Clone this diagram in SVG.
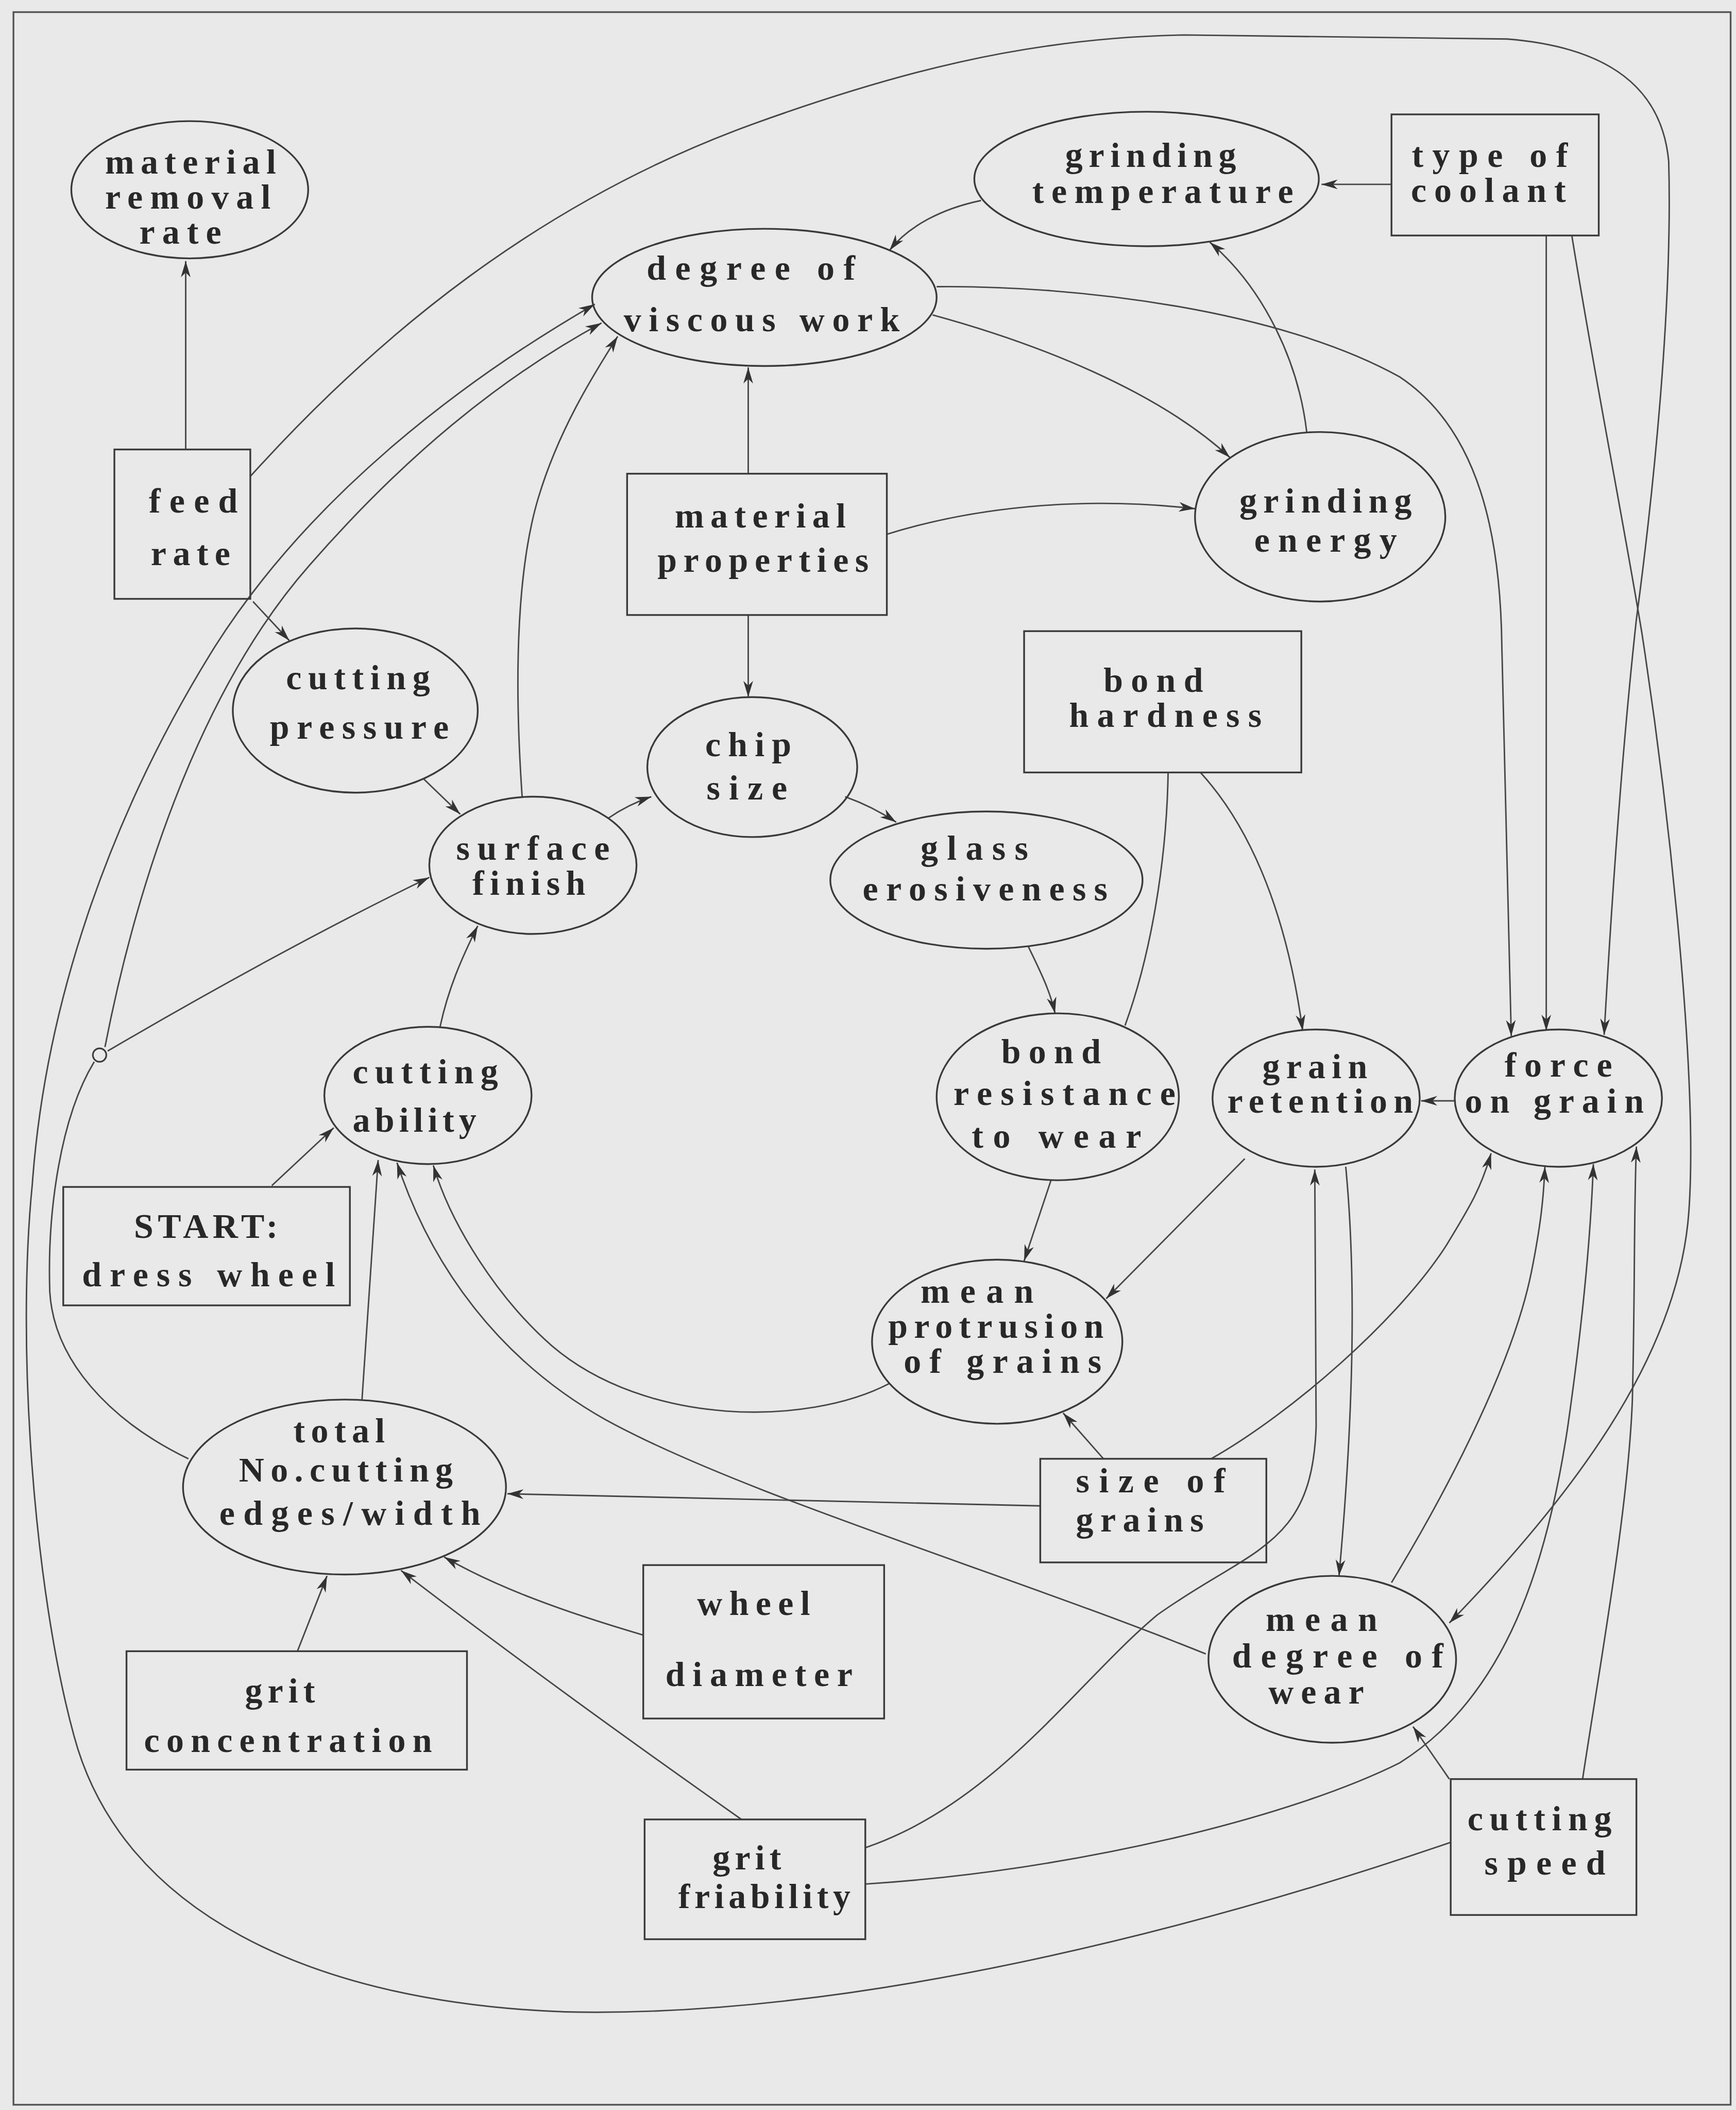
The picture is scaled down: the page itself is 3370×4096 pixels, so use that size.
<svg xmlns="http://www.w3.org/2000/svg" width="3370" height="4096" viewBox="0 0 3370 4096">
<style>
.n ellipse, .n rect { fill: none; stroke: #3a3a3a; stroke-width: 1.3; }
.e path { fill: none; stroke: #474747; stroke-width: 1.1; }
.t { font-family: "Liberation Serif", "DejaVu Serif", serif; font-size: 26px; font-weight: bold; fill: #282828; text-anchor: middle; }
</style>
<defs>
<marker id="a" viewBox="-13 -4.5 14 9" refX="0" refY="0" markerWidth="14" markerHeight="9" markerUnits="userSpaceOnUse" orient="auto">
<path d="M0,0 L-12,-3.6 L-8.5,0 L-12,3.6 Z" fill="#333"/>
</marker>
</defs>
<rect x="0" y="0" width="3370" height="4096" fill="#e9e9e9"/>
<g transform="scale(2.6124)">
<rect x="10" y="9" width="1276" height="1555" fill="none" stroke="#555" stroke-width="1.3"/>

<g class="e" id="connectors">
<path marker-end="url(#a)" d="M138,334 L138,194"/>
<path marker-end="url(#a)" d="M186,354 C 280,250 400,150 560,92 C 660,56 760,28 880,26 L 1120,29 C 1195,35 1235,65 1240,120 C 1243,230 1228,370 1216,460 C 1205,560 1197,680 1192,769"/>
<path marker-end="url(#a)" d="M696,213 C 800,212 950,230 1040,280 C 1100,320 1115,400 1116,480 C 1118,600 1121,700 1123,770"/>
<path marker-end="url(#a)" d="M693,234 C 770,255 860,290 914,340"/>
<path marker-end="url(#a)" d="M729,149 C 700,155 675,168 661,186"/>
<path marker-end="url(#a)" d="M1034,137 L982,137"/>
<path marker-end="url(#a)" d="M971,321 C 965,270 940,215 899,180"/>
<path marker-end="url(#a)" d="M556,352 L556,273"/>
<path marker-end="url(#a)" d="M659,397 C 720,378 800,368 888,378"/>
<path marker-end="url(#a)" d="M556,457 L556,518"/>
<path marker-end="url(#a)" d="M188,447 L215,476"/>
<path marker-end="url(#a)" d="M315,579 L342,605"/>
<path marker-end="url(#a)" d="M388,592 C 383,520 382,430 400,370 C 415,320 440,280 459,250"/>
<path marker-end="url(#a)" d="M452,608 C 462,601 472,596 484,592"/>
<path marker-end="url(#a)" d="M628,592 C 642,597 654,603 666,611"/>
<path marker-end="url(#a)" d="M764,703 C 772,720 780,735 784,753"/>
<path d="M868,574 C 867,640 855,710 836,762"/>
<path marker-end="url(#a)" d="M892,574 C 925,610 955,670 968,766"/>
<path marker-end="url(#a)" d="M1081,818 L1056,818"/>
<path marker-end="url(#a)" d="M1149,175 L1149,766"/>
<path marker-end="url(#a)" d="M1168,175 C 1185,280 1205,380 1220,470 C 1240,600 1262,800 1255,900 C 1248,1000 1180,1100 1077,1206"/>
<path marker-end="url(#a)" d="M925,861 L822,965"/>
<path marker-end="url(#a)" d="M781,877 L761,937"/>
<path marker-end="url(#a)" d="M820,1084 L790,1050"/>
<path marker-end="url(#a)" d="M773,1119 L377,1110"/>
<path marker-end="url(#a)" d="M661,1028 C 600,1060 480,1060 410,1000 C 370,965 335,910 322,866"/>
<path marker-end="url(#a)" d="M896,1229 C 750,1170 550,1110 450,1055 C 370,1010 320,940 295,864"/>
<path marker-end="url(#a)" d="M269,1040 L281,862"/>
<path marker-end="url(#a)" d="M202,881 L248,838"/>
<path marker-end="url(#a)" d="M327,763 C 333,735 343,712 355,688"/>
<path marker-end="url(#a)" d="M221,1227 L243,1171"/>
<path marker-end="url(#a)" d="M478,1215 C 420,1198 370,1180 330,1157"/>
<path marker-end="url(#a)" d="M551,1352 C 470,1295 380,1230 298,1167"/>
<path marker-end="url(#a)" d="M643,1373 C 740,1340 800,1250 860,1200 C 930,1150 975,1150 978,1060 L 977,869"/>
<path marker-end="url(#a)" d="M643,1400 C 800,1390 960,1350 1040,1310 C 1120,1260 1150,1160 1165,1060 C 1175,990 1182,920 1184,865"/>
<path marker-end="url(#a)" d="M1176,1322 C 1190,1230 1210,1120 1213,1040 C 1215,960 1214,900 1216,852"/>
<path marker-end="url(#a)" d="M1077,1322 L1050,1283"/>
<path marker-end="url(#a)" d="M1078,1369 C 900,1430 640,1500 420,1495 C 230,1488 90,1420 55,1290 C 25,1180 12,1000 24,880 C 34,740 85,600 160,480 C 230,370 340,285 442,226"/>
<path marker-end="url(#a)" d="M1034,1176 C 1080,1100 1125,1010 1138,945 C 1145,910 1147,890 1148,867"/>
<path marker-end="url(#a)" d="M1000,867 C 1008,950 1006,1050 995,1171"/>
<path marker-end="url(#a)" d="M900,1084 C 960,1050 1040,980 1075,925 C 1090,900 1100,885 1108,857"/>
<path d="M140,1084 C 80,1055 40,1010 37,960 C 35,900 45,830 70,789"/>
<path marker-end="url(#a)" d="M78,778 C 105,640 155,505 230,420 C 300,340 370,282 447,240"/>
<path marker-end="url(#a)" d="M80,781 C 150,740 240,690 319,652"/>
</g>

<circle id="junction" cx="74" cy="784" r="5" fill="none" stroke="#3a3a3a" stroke-width="1.2"/>

<g class="n" id="material-removal-rate"><ellipse cx="141" cy="141" rx="88" ry="51"/>
<text class="t" x="141.6" y="129" textLength="127">material</text><text class="t" x="139.6" y="155" textLength="123">removal</text><text class="t" x="134" y="181" textLength="61">rate</text></g>
<g class="n" id="feed-rate"><rect x="85" y="334" width="101" height="111"/>
<text class="t" x="143.6" y="381" textLength="66">feed</text><text class="t" x="141.6" y="420" textLength="59">rate</text></g>
<g class="n" id="grinding-temperature"><ellipse cx="852" cy="133" rx="128" ry="50"/>
<text class="t" x="855" y="124" textLength="127">grinding</text><text class="t" x="864" y="151" textLength="194">temperature</text></g>
<g class="n" id="type-of-coolant"><rect x="1034" y="85" width="154" height="90"/>
<text class="t" x="1107" y="124" textLength="116">type of</text><text class="t" x="1106" y="150" textLength="115">coolant</text></g>
<g class="n" id="degree-of-viscous-work"><ellipse cx="568" cy="221" rx="128" ry="51"/>
<text class="t" x="558" y="208" textLength="155">degree of</text><text class="t" x="566" y="246" textLength="205">viscous work</text></g>
<g class="n" id="material-properties"><rect x="466" y="352" width="193" height="105"/>
<text class="t" x="565" y="392" textLength="127">material</text><text class="t" x="567" y="425" textLength="157">properties</text></g>
<g class="n" id="grinding-energy"><ellipse cx="981" cy="384" rx="93" ry="63"/>
<text class="t" x="985" y="381" textLength="128">grinding</text><text class="t" x="985" y="410" textLength="106">energy</text></g>
<g class="n" id="cutting-pressure"><ellipse cx="264" cy="528" rx="91" ry="61"/>
<text class="t" x="266" y="512" textLength="107">cutting</text><text class="t" x="267" y="549" textLength="133">pressure</text></g>
<g class="n" id="surface-finish"><ellipse cx="396" cy="643" rx="77" ry="51"/>
<text class="t" x="396" y="639" textLength="114">surface</text><text class="t" x="393" y="665" textLength="84">finish</text></g>
<g class="n" id="chip-size"><ellipse cx="559" cy="570" rx="78" ry="52"/>
<text class="t" x="556" y="562" textLength="64">chip</text><text class="t" x="555" y="594" textLength="60">size</text></g>
<g class="n" id="glass-erosiveness"><ellipse cx="733" cy="654" rx="116" ry="51"/>
<text class="t" x="724" y="639" textLength="80">glass</text><text class="t" x="732" y="669" textLength="182">erosiveness</text></g>
<g class="n" id="bond-hardness"><rect x="761" y="469" width="206" height="105"/>
<text class="t" x="857" y="514" textLength="74">bond</text><text class="t" x="866" y="540" textLength="143">hardness</text></g>
<g class="n" id="bond-resistance-to-wear"><ellipse cx="786" cy="815" rx="90" ry="62"/>
<text class="t" x="781" y="790" textLength="74">bond</text><text class="t" x="791" y="821" textLength="165">resistance</text><text class="t" x="785" y="853" textLength="126">to wear</text></g>
<g class="n" id="grain-retention"><ellipse cx="978" cy="816" rx="77" ry="51"/>
<text class="t" x="977" y="801" textLength="78">grain</text><text class="t" x="981" y="827" textLength="138">retention</text></g>
<g class="n" id="force-on-grain"><ellipse cx="1158" cy="816" rx="77" ry="51"/>
<text class="t" x="1158" y="800" textLength="80">force</text><text class="t" x="1155" y="827" textLength="133">on grain</text></g>
<g class="n" id="cutting-ability"><ellipse cx="318" cy="814" rx="77" ry="51"/>
<text class="t" x="316" y="805" textLength="108">cutting</text><text class="t" x="308" y="841" textLength="92">ability</text></g>
<g class="n" id="start-dress-wheel"><rect x="47" y="882" width="213" height="88"/>
<text class="t" x="153" y="920" textLength="107">START:</text><text class="t" x="155" y="956" textLength="188">dress wheel</text></g>
<g class="n" id="mean-protrusion-of-grains"><ellipse cx="741" cy="997" rx="93" ry="61"/>
<text class="t" x="726" y="968" textLength="84">mean</text><text class="t" x="740" y="994" textLength="160">protrusion</text><text class="t" x="745" y="1020" textLength="147">of grains</text></g>
<g class="n" id="total-no-cutting-edges-width"><ellipse cx="256" cy="1105" rx="120" ry="65"/>
<text class="t" x="252" y="1072" textLength="68">total</text><text class="t" x="257" y="1101" textLength="159">No.cutting</text><text class="t" x="260" y="1133" textLength="194">edges/width</text></g>
<g class="n" id="size-of-grains"><rect x="773" y="1084" width="168" height="77"/>
<text class="t" x="855" y="1109" textLength="111">size of</text><text class="t" x="847" y="1138" textLength="95">grains</text></g>
<g class="n" id="wheel-diameter"><rect x="478" y="1163" width="179" height="114"/>
<text class="t" x="560" y="1200" textLength="84">wheel</text><text class="t" x="564" y="1253" textLength="139">diameter</text></g>
<g class="n" id="grit-concentration"><rect x="94" y="1227" width="253" height="88"/>
<text class="t" x="208" y="1265" textLength="52">grit</text><text class="t" x="214" y="1302" textLength="214">concentration</text></g>
<g class="n" id="mean-degree-of-wear"><ellipse cx="990" cy="1233" rx="92" ry="62"/>
<text class="t" x="982" y="1212" textLength="83">mean</text><text class="t" x="994" y="1239" textLength="157">degree of</text><text class="t" x="978" y="1266" textLength="71">wear</text></g>
<g class="n" id="grit-friability"><rect x="479" y="1352" width="164" height="89"/>
<text class="t" x="555" y="1389" textLength="51">grit</text><text class="t" x="568" y="1418" textLength="128">friability</text></g>
<g class="n" id="cutting-speed"><rect x="1078" y="1322" width="138" height="101"/>
<text class="t" x="1144" y="1360" textLength="107">cutting</text><text class="t" x="1148" y="1393" textLength="90">speed</text></g>
</g>
</svg>
